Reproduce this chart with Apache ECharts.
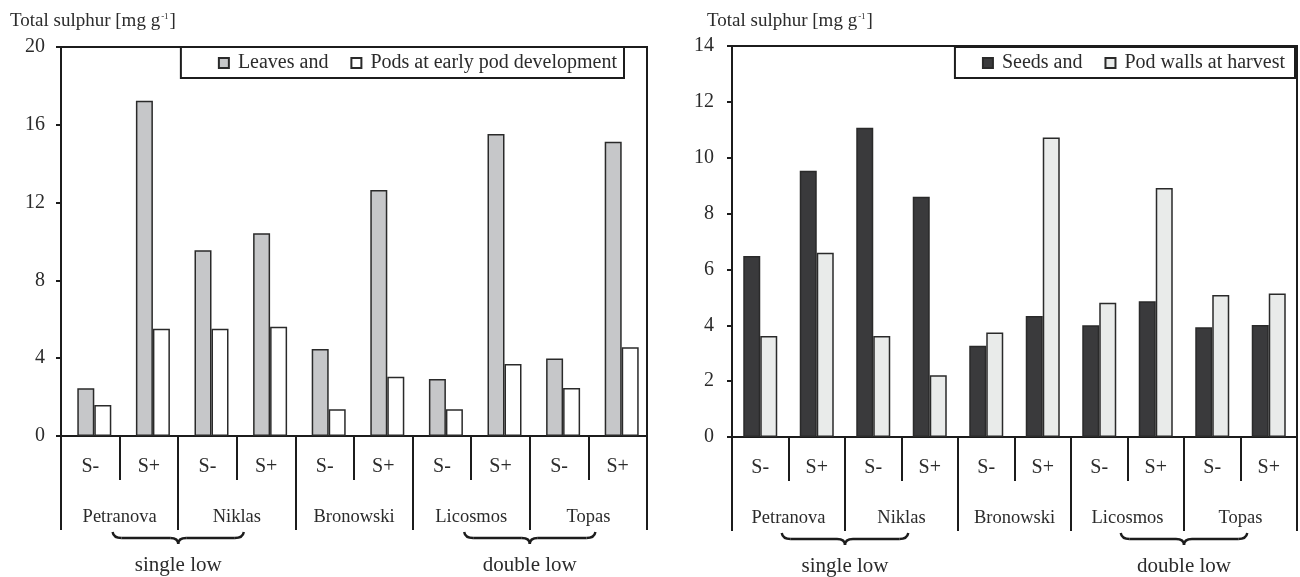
<!DOCTYPE html>
<html>
<head>
<meta charset="utf-8">
<script src="https://cdn.jsdelivr.net/npm/echarts@6/dist/echarts.min.js"></script>
<style>
html,body{margin:0;padding:0;background:#fff;}
#chart{width:1300px;height:577px;}
</style>
</head>
<body>
<div id="chart"></div>
<script>
// ---- data ----
const categories = ['S-','S+','S-','S+','S-','S+','S-','S+','S-','S+'];
const cultivars = ['Petranova','Niklas','Bronowski','Licosmos','Topas'];
const leaves    = [2.45, 17.24, 9.55, 10.42, 4.47, 12.65, 2.93, 15.53, 3.99, 15.13];
const podsEarly = [1.59, 5.52, 5.52, 5.62, 1.37, 3.05, 1.37, 3.70, 2.47, 4.56];
const seeds     = [6.48, 9.53, 11.07, 8.60, 3.27, 4.33, 4.00, 4.86, 3.93, 4.01];
const podWalls  = [3.62, 6.60, 3.62, 2.21, 3.74, 10.72, 4.81, 8.92, 5.08, 5.14];
const leftAxis  = {min: 0, max: 20, step: 4};
const rightAxis = {min: 0, max: 14, step: 2};
const groups = [
  {label: 'single low', members: ['Petranova','Niklas']},
  {label: 'double low', members: ['Licosmos','Topas']}
];
const seriesNames = ['Leaves and','Pods at early pod development','Seeds and','Pod walls at harvest'];
const yTitle = 'Total sulphur [mg g';

// ---- styles ----
const FONT = "'Liberation Serif','Times New Roman',serif";
const TXT = '#2b2b2b';
const LINE = '#1c1c1c';

function groupSpans() {
  return groups.map(g => {
    const i0 = cultivars.indexOf(g.members[0]);
    const i1 = cultivars.indexOf(g.members[g.members.length - 1]);
    const a = 2 * i0 + 1, b = 2 * i1 + 1;
    return [(a + b) / 2, a - 0.12, b + 0.12];
  });
}
function groupLabel(v) {
  const s = groupSpans();
  for (let k = 0; k < s.length; k++) if (Math.abs(s[k][0] - v) < 1e-6) return groups[k].label;
  return '';
}

function braceRender(params, api) {
  const c = api.value(0), lo = api.value(1), hi = api.value(2);
  const pL = api.coord([lo, 0]), pM = api.coord([c, 0]), pR = api.coord([hi, 0]);
  const y0 = pL[1] + 102;
  const xl = pL[0], xm = pM[0], xr = pR[0];
  const st = {stroke: LINE, lineWidth: 2.4, fill: null};
  return {
    type: 'group',
    children: [
      {type: 'bezierCurve', shape: {x1: xl, y1: y0 - 6, cpx1: xl + 1, cpy1: y0, x2: xl + 9, y2: y0}, style: st},
      {type: 'line', shape: {x1: xl + 9, y1: y0, x2: xm - 8, y2: y0}, style: st},
      {type: 'bezierCurve', shape: {x1: xm - 8, y1: y0, cpx1: xm, cpy1: y0, x2: xm, y2: y0 + 6}, style: st},
      {type: 'bezierCurve', shape: {x1: xm, y1: y0 + 6, cpx1: xm, cpy1: y0, x2: xm + 8, y2: y0}, style: st},
      {type: 'line', shape: {x1: xm + 8, y1: y0, x2: xr - 9, y2: y0}, style: st},
      {type: 'bezierCurve', shape: {x1: xr - 9, y1: y0, cpx1: xr - 1, cpy1: y0, x2: xr, y2: y0 - 6}, style: st}
    ]
  };
}

function xAxesFor(gridIndex) {
  return [
    {
      type: 'category', gridIndex, data: categories, position: 'bottom', offset: 0,
      axisLine: {show: true, lineStyle: {color: LINE, width: 2}},
      axisTick: {show: true, interval: 0, length: 44, lineStyle: {color: LINE, width: 2}},
      axisLabel: {interval: 0, margin: 21, fontSize: 20, fontFamily: FONT, color: TXT}
    },
    {
      type: 'category', gridIndex, data: cultivars, position: 'bottom', offset: 0,
      axisLine: {show: false},
      axisTick: {show: true, interval: 0, length: 94, lineStyle: {color: LINE, width: 2}},
      axisLabel: {interval: 0, margin: 72, fontSize: 18.5, fontFamily: FONT, color: TXT}
    },
    {
      type: 'value', gridIndex, min: 0, max: categories.length, interval: 2, position: 'bottom', offset: 0,
      axisLine: {show: false}, axisTick: {show: false}, splitLine: {show: false},
      axisLabel: {margin: 119, fontSize: 21, fontFamily: FONT, color: TXT, formatter: groupLabel}
    }
  ];
}

function yAxisFor(gridIndex, ax, margin) {
  return {
    type: 'value', gridIndex, min: ax.min, max: ax.max, interval: ax.step,
    axisLine: {show: true, lineStyle: {color: LINE, width: 2}},
    axisTick: {show: true, inside: false, length: 5, lineStyle: {color: LINE, width: 2}},
    splitLine: {show: false},
    axisLabel: {margin, fontSize: 20, fontFamily: FONT, color: TXT}
  };
}

function barSeries(name, data, xi, yi, color) {
  return {
    type: 'bar', name, data, xAxisIndex: xi, yAxisIndex: yi,
    barWidth: 17, barGap: '0%',
    itemStyle: {color, borderColor: '#2a2a2a', borderWidth: 1.5},
    emphasis: {disabled: true}
  };
}

const titleRich = {
  a: {fontSize: 19, fontFamily: FONT, fontWeight: 'normal', color: TXT},
  s: {fontSize: 9, fontFamily: FONT, fontWeight: 'normal', color: TXT, padding: [0, 1, 10, 1]}
};

const legendCommon = {
  orient: 'horizontal', top: 47, itemWidth: 10, itemHeight: 10, itemGap: 22,
  borderColor: LINE, borderWidth: 2, borderRadius: 0, backgroundColor: '#fff',
  icon: 'rect',
  textStyle: {fontSize: 20, fontFamily: FONT, color: TXT, padding: [0, 0, 0, 4]},
  selectedMode: false
};

const option = {
  animation: false,
  backgroundColor: '#fff',
  title: [
    {text: '{a|' + yTitle + '}{s|-1}{a|]}', left: 5, top: 7, textStyle: {fontWeight: 'normal', rich: titleRich}},
    {text: '{a|' + yTitle + '}{s|-1}{a|]}', left: 702, top: 7, textStyle: {fontWeight: 'normal', rich: titleRich}}
  ],
  legend: [
    Object.assign({}, legendCommon, {data: [seriesNames[0], seriesNames[1]], right: 676, padding: [6, 7, 5, 37]}),
    Object.assign({}, legendCommon, {data: [seriesNames[2], seriesNames[3]], right: 5, padding: [6, 10, 5, 27]})
  ],
  grid: [
    {left: 61, top: 47, width: 586, height: 389, show: true, borderColor: LINE, borderWidth: 2, backgroundColor: 'transparent'},
    {left: 732, top: 46, width: 566, height: 391, show: true, borderColor: LINE, borderWidth: 2, backgroundColor: 'transparent'}
  ],
  xAxis: xAxesFor(0).concat(xAxesFor(1)),
  yAxis: [yAxisFor(0, leftAxis, 16), yAxisFor(1, rightAxis, 18)],
  series: [
    // empty spacer: the left panel's bar pairs sit slightly right of the category centres
    {type: 'bar', name: '_spacer', data: [], xAxisIndex: 0, yAxisIndex: 0, barWidth: 8, barGap: '0%', silent: true},
    barSeries(seriesNames[0], leaves, 0, 0, '#c6c7c9'),
    barSeries(seriesNames[1], podsEarly, 0, 0, '#ffffff'),
    barSeries(seriesNames[2], seeds, 3, 1, '#3a3a3c'),
    barSeries(seriesNames[3], podWalls, 3, 1, '#e9ebea'),
    {type: 'custom', xAxisIndex: 2, yAxisIndex: 0, data: groupSpans(), renderItem: braceRender, clip: false, silent: true},
    {type: 'custom', xAxisIndex: 5, yAxisIndex: 1, data: groupSpans(), renderItem: braceRender, clip: false, silent: true}
  ]
};

const chart = echarts.init(document.getElementById('chart'), null, {renderer: 'canvas'});
chart.setOption(option);
</script>
</body>
</html>
